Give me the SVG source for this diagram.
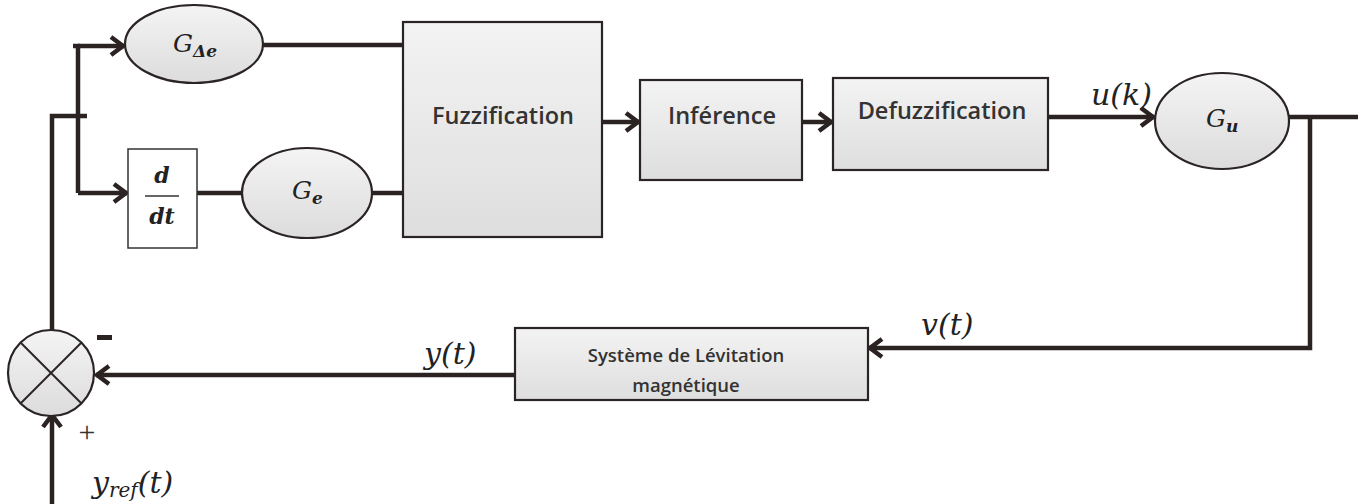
<svg xmlns="http://www.w3.org/2000/svg" width="1369" height="504" viewBox="0 0 1369 504">
  <style>
    .box { stroke: #2b2424; stroke-width: 2.2; fill: url(#gBox); }
    .ell { stroke: #2b2424; stroke-width: 2.2; fill: url(#gEll); }
    .wire { fill: none; stroke: #2b2222; stroke-width: 4.5; }
    .arrow { marker-end: url(#arr); }
    .lbl { font-family: "Open Sans", "Noto Sans", sans-serif; font-weight: 600; fill: #333; text-anchor: middle; }
    .math { font-family: "DejaVu Serif", "Liberation Serif", serif; font-style: italic; fill: #222; }
  </style>
  <defs>
    <linearGradient id="gBox" x1="0" y1="0" x2="0" y2="1">
      <stop offset="0" stop-color="#f3f3f3"/>
      <stop offset="1" stop-color="#dedede"/>
    </linearGradient>
    <linearGradient id="gEll" x1="0" y1="0" x2="0" y2="1">
      <stop offset="0" stop-color="#f4f4f4"/>
      <stop offset="1" stop-color="#dcdcdc"/>
    </linearGradient>
    <marker id="arr" markerUnits="userSpaceOnUse" viewBox="-18 -12 22 24" markerWidth="22" markerHeight="24" refX="0" refY="0" orient="auto">
      <path d="M-13,-9 L-1,0 L-13,9" fill="none" stroke="#2b2222" stroke-width="4.5"/>
    </marker>
  </defs>

  <rect width="1369" height="504" fill="#ffffff"/>

  <!-- connectors -->
  <g id="connectors">
    <!-- branch feeding both gain paths -->
    <path class="wire" d="M52,330 V116 H87"/>
    <path class="wire" d="M73,46 H78 V193"/>
    <path class="wire arrow" d="M78,46 H124"/>
    <path class="wire arrow" d="M78,193 H127"/>
    <!-- into fuzzification -->
    <path class="wire" d="M263,45 H403"/>
    <path class="wire" d="M197,193 H243"/>
    <path class="wire" d="M372,193 H403"/>
    <!-- fuzzy chain -->
    <path class="wire arrow" d="M602,122 H639"/>
    <path class="wire arrow" d="M802,122 H832"/>
    <path class="wire arrow" d="M1048,117 H1154"/>
    <!-- plant loop -->
    <path class="wire" d="M1289,117 H1358"/>
    <path class="wire arrow" d="M1310,117 V348 H869"/>
    <path class="wire arrow" d="M515,375 H96"/>
    <path class="wire arrow" d="M52,504 V414"/>
  </g>

  <!-- gain on error variation -->
  <g id="gain-de">
    <ellipse class="ell" cx="194" cy="44" rx="69" ry="39"/>
    <text class="math" x="173" y="52" font-size="25">G<tspan font-size="17" font-weight="bold" dy="5">Δe</tspan></text>
  </g>

  <!-- derivative block -->
  <g id="derivative">
    <rect x="128" y="149" width="69" height="99" fill="#ffffff" stroke="#333" stroke-width="1.5"/>
    <text class="math" x="162" y="183" font-size="22" font-weight="bold" text-anchor="middle">d</text>
    <line x1="145" y1="196" x2="179" y2="196" stroke="#333" stroke-width="1.6"/>
    <text class="math" x="162" y="224" font-size="22" font-weight="bold" text-anchor="middle">dt</text>
  </g>

  <!-- gain on error -->
  <g id="gain-e">
    <ellipse class="ell" cx="307" cy="193" rx="65" ry="45"/>
    <text class="math" x="292" y="199" font-size="25">G<tspan font-size="17" font-weight="bold" dy="5">e</tspan></text>
  </g>

  <g id="fuzzification">
    <rect class="box" x="403" y="22" width="199" height="215"/>
    <text class="lbl" x="503" y="124" font-size="23.5">Fuzzification</text>
  </g>

  <g id="inference">
    <rect class="box" x="640" y="80" width="162" height="100"/>
    <text class="lbl" x="722" y="124" font-size="23.5">Inférence</text>
  </g>

  <g id="defuzzification">
    <rect class="box" x="833" y="78" width="215" height="92"/>
    <text class="lbl" x="942" y="119" font-size="23.5">Defuzzification</text>
  </g>

  <g id="gain-u">
    <ellipse class="ell" cx="1222" cy="121" rx="67" ry="48"/>
    <text class="math" x="1206" y="127" font-size="25">G<tspan font-size="17" font-weight="bold" dy="5">u</tspan></text>
  </g>

  <g id="plant">
    <rect class="box" x="515" y="328" width="353" height="72"/>
    <text class="lbl" x="686" y="362" font-size="18.5">Système de Lévitation</text>
    <text class="lbl" x="686" y="392" font-size="18.5">magnétique</text>
  </g>

  <g id="sum">
    <circle class="ell" cx="51" cy="373" r="43"/>
    <line x1="21" y1="343" x2="81" y2="403" stroke="#2b2424" stroke-width="2"/>
    <line x1="81" y1="343" x2="21" y2="403" stroke="#2b2424" stroke-width="2"/>
    <rect x="97" y="335" width="15" height="5" fill="#2b2222"/>
    <text x="87" y="442" font-family="'Liberation Serif', serif" font-size="30" fill="#333" text-anchor="middle">+</text>
  </g>

  <!-- signal labels -->
  <g id="signals">
    <text class="math" x="1091" y="105" font-size="30">u(k)</text>
    <text class="math" x="921" y="335" font-size="30">v(t)</text>
    <text class="math" x="424" y="364" font-size="30">y(t)</text>
    <text class="math" x="92" y="493" font-size="30">y<tspan font-size="20" dy="4">ref</tspan><tspan dy="-4">(t)</tspan></text>
  </g>
</svg>
